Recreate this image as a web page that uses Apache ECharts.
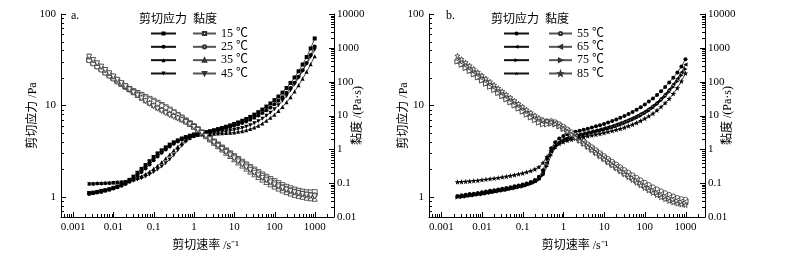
<!DOCTYPE html>
<html><head><meta charset="utf-8">
<script src="https://cdn.jsdelivr.net/npm/echarts@6/dist/echarts.min.js"></script>
<style>html,body{margin:0;padding:0;background:#fff}#c{width:801px;height:262px}</style>
</head><body><div id="c"></div>
<script>
// ---------- data ----------
const shearRate = [0.0025,0.00315,0.00396,0.00499,0.00628,0.00791,0.00996,0.0125,0.0158,0.0199,
 0.025,0.0315,0.0396,0.0499,0.0628,0.0791,0.0996,0.125,0.158,0.199,
 0.25,0.315,0.396,0.499,0.628,0.791,0.996,1.25,1.58,1.99,
 2.5,3.15,3.96,4.99,6.28,7.91,9.96,12.5,15.8,19.9,
 25,31.5,39.6,49.9,62.8,79.1,99.6,125,158,199,
 250,315,396,499,628,791,996];

const stressA15 = [1.10,1.11,1.13,1.16,1.18,1.21,1.25,1.29,1.35,1.42,1.53,1.66,1.83,2.02,2.22,2.45,2.72,2.98,3.22,3.47,3.72,3.94,4.14,4.34,4.50,4.66,4.80,4.90,5.00,5.10,5.22,5.35,5.50,5.66,5.84,6.04,6.26,6.50,6.78,7.10,7.48,7.92,8.43,9.0,9.7,10.5,11.4,12.5,13.8,15.5,17.6,20.2,23.6,28.0,33.8,42,54];
const viscA15 = [440,353,285,233,188,153,126,103,85.6,71.6,61.2,52.7,46.2,40.5,35.3,31.0,27.3,23.8,20.4,17.5,14.9,12.5,10.4,8.70,7.16,5.89,4.82,3.91,3.17,2.57,2.09,1.70,1.39,1.13,0.930,0.764,0.629,0.519,0.430,0.358,0.299,0.252,0.213,0.180,0.154,0.133,0.115,0.0998,0.0875,0.0781,0.0704,0.0642,0.0596,0.0561,0.0538,0.0531,0.0543];
const stressA25 = [1.07,1.09,1.11,1.13,1.16,1.19,1.23,1.27,1.32,1.38,1.46,1.56,1.70,1.86,2.04,2.25,2.50,2.76,3.02,3.28,3.55,3.80,4.02,4.22,4.40,4.56,4.72,4.84,4.94,5.03,5.13,5.24,5.36,5.49,5.64,5.80,5.98,6.18,6.41,6.67,6.97,7.33,7.75,8.24,8.82,9.5,10.3,11.2,12.3,13.7,15.5,17.7,20.6,24.3,29.0,35.5,44];
const viscA25 = [428,346,280,227,185,151,124,101,83.7,69.6,58.4,49.6,42.9,37.3,32.5,28.5,25.1,22.0,19.1,16.5,14.2,12.1,10.1,8.46,7.00,5.77,4.74,3.86,3.13,2.54,2.05,1.66,1.35,1.10,0.898,0.734,0.601,0.493,0.406,0.336,0.279,0.233,0.196,0.165,0.140,0.120,0.104,0.0894,0.0780,0.0690,0.0620,0.0562,0.0520,0.0487,0.0462,0.0449,0.0442];
const stressA35 = [1.40,1.40,1.41,1.41,1.42,1.42,1.43,1.44,1.45,1.47,1.50,1.54,1.60,1.68,1.77,1.88,2.02,2.18,2.38,2.62,2.90,3.20,3.52,3.85,4.15,4.42,4.62,4.74,4.80,4.84,4.87,4.89,4.91,4.94,4.97,5.01,5.06,5.13,5.22,5.34,5.50,5.72,6.00,6.35,6.78,7.30,7.90,8.65,9.60,10.8,12.3,14.2,16.6,19.6,23.3,28.2,34.5];
const viscA35 = [560,445,356,283,226,180,144,115,91.9,74.1,60.0,48.9,40.4,33.7,28.2,23.8,20.3,17.4,15.1,13.2,11.6,10.2,8.88,7.72,6.61,5.59,4.64,3.78,3.04,2.44,1.95,1.55,1.24,0.990,0.791,0.634,0.509,0.409,0.331,0.269,0.220,0.182,0.151,0.127,0.108,0.0923,0.0794,0.0690,0.0609,0.0544,0.0492,0.0451,0.0419,0.0393,0.0371,0.0357,0.0347];
const stressA45 = [1.37,1.37,1.38,1.38,1.39,1.40,1.41,1.42,1.43,1.45,1.47,1.50,1.54,1.59,1.66,1.75,1.86,1.99,2.14,2.33,2.56,2.85,3.22,3.62,4.00,4.32,4.55,4.70,4.79,4.86,4.92,4.98,5.04,5.11,5.19,5.28,5.38,5.50,5.65,5.84,6.07,6.36,6.72,7.15,7.68,8.32,9.08,10.0,11.2,12.7,14.6,17.0,20.0,23.8,28.4,34.0,40.5];
const viscA45 = [548,435,348,277,221,177,142,113,90.7,73.1,58.8,47.7,38.9,31.9,26.4,22.1,18.7,15.9,13.6,11.7,10.2,9.05,8.13,7.26,6.37,5.46,4.57,3.75,3.04,2.45,1.97,1.58,1.27,1.025,0.826,0.668,0.541,0.439,0.358,0.294,0.243,0.202,0.170,0.143,0.122,0.105,0.0913,0.0798,0.0710,0.0640,0.0584,0.0540,0.0505,0.0477,0.0452,0.0430,0.0407];

const stressB55 = [1.02,1.04,1.05,1.07,1.08,1.10,1.12,1.14,1.16,1.18,1.20,1.22,1.25,1.27,1.30,1.33,1.36,1.40,1.45,1.52,1.65,1.95,2.6,3.4,3.95,4.35,4.62,4.82,4.98,5.13,5.27,5.41,5.56,5.72,5.89,6.07,6.27,6.49,6.73,7.00,7.30,7.64,8.02,8.46,8.96,9.53,10.2,11.0,11.9,13.0,14.3,15.9,17.8,20.1,22.9,26.6,32];
const viscB55 = [408,330,265,215,172,139,113,91.0,73.5,59.5,48.0,38.8,31.6,25.5,20.7,16.8,13.7,11.2,9.19,7.66,6.60,6.20,6.56,6.82,6.29,5.50,4.64,3.85,3.16,2.59,2.11,1.72,1.40,1.15,0.938,0.768,0.630,0.518,0.427,0.353,0.292,0.243,0.202,0.170,0.143,0.121,0.103,0.0878,0.0754,0.0655,0.0572,0.0505,0.0449,0.0403,0.0365,0.0336,0.0322];
const stressB65 = [1.00,1.01,1.03,1.04,1.06,1.07,1.09,1.11,1.13,1.15,1.17,1.19,1.22,1.24,1.27,1.30,1.33,1.37,1.42,1.48,1.58,1.82,2.35,3.1,3.65,4.0,4.25,4.43,4.58,4.71,4.83,4.95,5.07,5.20,5.33,5.48,5.64,5.81,6.0,6.21,6.44,6.70,6.99,7.32,7.70,8.13,8.63,9.22,9.95,10.85,11.95,13.3,15.0,17.1,19.7,23.0,28];
const viscB65 = [400,321,260,209,169,135,110,88.6,71.6,58.0,46.8,37.8,30.8,24.9,20.2,16.4,13.4,10.9,9.00,7.46,6.32,5.78,5.93,6.22,5.81,5.06,4.27,3.54,2.90,2.37,1.93,1.57,1.28,1.04,0.849,0.693,0.567,0.464,0.380,0.313,0.258,0.213,0.176,0.147,0.123,0.103,0.0867,0.0736,0.0631,0.0547,0.0478,0.0423,0.0379,0.0343,0.0314,0.0291,0.0281];
const stressB75 = [0.98,0.99,1.00,1.02,1.03,1.05,1.06,1.08,1.10,1.12,1.14,1.16,1.18,1.21,1.23,1.26,1.29,1.33,1.38,1.44,1.53,1.72,2.15,2.85,3.4,3.78,4.05,4.25,4.40,4.53,4.64,4.75,4.86,4.98,5.10,5.23,5.37,5.52,5.69,5.88,6.09,6.33,6.60,6.91,7.26,7.67,8.14,8.70,9.38,10.2,11.2,12.45,14.0,15.9,18.3,21.3,25];
const viscB75 = [392,315,252,205,164,133,107,86.2,69.7,56.4,45.6,36.9,29.8,24.3,19.6,15.9,13.0,10.6,8.75,7.26,6.12,5.46,5.43,5.71,5.41,4.78,4.07,3.39,2.79,2.28,1.86,1.51,1.23,0.998,0.812,0.662,0.540,0.441,0.361,0.296,0.244,0.201,0.167,0.139,0.116,0.0970,0.0818,0.0694,0.0595,0.0514,0.0448,0.0396,0.0353,0.0319,0.0291,0.0269,0.0251];
const stressB85 = [1.45,1.46,1.47,1.48,1.50,1.51,1.53,1.55,1.57,1.59,1.61,1.64,1.67,1.70,1.73,1.77,1.81,1.86,1.92,2.00,2.12,2.35,2.75,3.2,3.55,3.8,3.98,4.12,4.24,4.34,4.43,4.52,4.61,4.70,4.80,4.90,5.01,5.13,5.26,5.40,5.56,5.74,5.95,6.19,6.47,6.80,7.18,7.63,8.17,8.83,9.63,10.6,11.8,13.4,15.5,18.4,22.5];
const viscB85 = [580,464,371,297,239,191,154,124,99.5,80.1,64.4,52.1,42.2,34.1,27.5,22.4,18.2,14.8,12.2,10.1,8.48,7.47,6.94,6.42,5.65,4.81,4.00,3.29,2.69,2.19,1.77,1.44,1.16,0.942,0.764,0.620,0.504,0.409,0.333,0.272,0.222,0.182,0.150,0.124,0.103,0.0860,0.0722,0.0609,0.0518,0.0445,0.0385,0.0337,0.0298,0.0269,0.0247,0.0233,0.0226];

const tempsA = ['15 ℃','25 ℃','35 ℃','45 ℃'];
const tempsB = ['55 ℃','65 ℃','75 ℃','85 ℃'];

// tick positions on the log axes
const xMajorTicks = [0.001,0.01,0.1,1,10,100,1000];
const xMinorTicks = [0.0006,0.0007,0.0008,0.0009,0.002,0.003,0.004,0.005,0.006,0.007,0.008,0.009,
 0.02,0.03,0.04,0.05,0.06,0.07,0.08,0.09,0.2,0.3,0.4,0.5,0.6,0.7,0.8,0.9,2,3,4,5,6,7,8,9,
 20,30,40,50,60,70,80,90,200,300,400,500,600,700,800,900,2000];
const yStressMajorTicks = [1,10,100];
const yStressMinorTicks = [0.7,0.8,0.9,2,3,4,5,6,7,8,9,20,30,40,50,60,70,80,90];
const yViscMajorTicks = [0.1,1,10,100,1000,10000];
const yViscMinorTicks = [0.02,0.03,0.04,0.05,0.06,0.07,0.08,0.09,0.2,0.3,0.4,0.5,0.6,0.7,0.8,0.9,
 2,3,4,5,6,7,8,9,20,30,40,50,60,70,80,90,200,300,400,500,600,700,800,900,2000,3000,4000,5000,6000,7000,8000,9000];

// ---------- chart ----------
const FONT = "'Liberation Serif','Times New Roman','Noto Sans CJK SC',serif";
const X_MIN = 0.0005, X_MAX = 3000, YS_MIN = 0.6, YS_MAX = 100, YV_MIN = 0.01, YV_MAX = 10000;
const STAR = 'path://M0,-10L2.35,-3.24L9.51,-3.09L3.8,1.24L5.88,8.09L0,4L-5.88,8.09L-3.8,1.24L-9.51,-3.09L-2.35,-3.24Z';

function isPow10(v){ const l = Math.log10(v); return Math.abs(l - Math.round(l)) < 1e-6; }
const labelFmt = v => isPow10(v) ? String(+Number(v).toPrecision(6)) : '';

function xAxisCfg(gi){
  return { type:'log', logBase:10, gridIndex:gi, min:X_MIN, max:X_MAX,
    name:'剪切速率 /s⁻¹', nameLocation:'middle', nameGap:23, nameMoveOverlap:false,
    nameTextStyle:{fontSize:12, fontFamily:FONT, color:'#000', padding:[0,0,0,16]},
    axisLine:{show:true, onZero:false, lineStyle:{color:'#000', width:1}},
    axisTick:{show:false},
    axisLabel:{margin:5, formatter:labelFmt, color:'#000', fontSize:11, fontFamily:FONT},
    splitLine:{show:false}};
}
function yAxisCfg(gi, pos, min, max, name, gap){
  return { type:'log', logBase:10, gridIndex:gi, position:pos, min, max,
    name, nameLocation:'middle', nameRotate:90, nameGap:gap, nameMoveOverlap:false,
    nameTextStyle:{fontSize:12, fontFamily:FONT, color:'#000'},
    axisLine:{show:true, onZero:false, lineStyle:{color:'#000', width:1}},
    axisTick:{show:false},
    axisLabel:{margin:pos==='left'?5:3, formatter:labelFmt, color:'#000', fontSize:11, fontFamily:FONT},
    splitLine:{show:false}, alignTicks:false};
}

function lineSeries(name, ys, sym, rot, open, xi, yi){
  return { type:'line', name, xAxisIndex:xi, yAxisIndex:yi,
    data: shearRate.map((x,i)=>[x, ys[i]]),
    symbol:sym, symbolRotate:rot, symbolSize: open ? 5 : (sym===STAR?5.5:4), showSymbol:true,
    lineStyle:{color: open ? '#555' : '#111', width:0.8},
    itemStyle: open ? {color:'#fff', borderColor:'#333', borderWidth:0.8} : {color:'#000', borderWidth:0},
    emphasis:{disabled:true}, animation:false, z:3 };
}

// axis ticks (major and minor) drawn through the axes' own scales
function tickSeries(kind, values, len, xi, yi){
  const data = values.map(v => kind==='x' ? [v, YS_MIN] : (kind==='yl' ? [X_MIN, v] : [X_MAX, v]));
  return { type:'custom', xAxisIndex:xi, yAxisIndex:yi, silent:true, clip:false, z:10, animation:false,
    data,
    renderItem:(params, api)=>{
      const p = api.coord([api.value(0), api.value(1)]);
      let shape;
      if (kind==='x'){ const x = Math.round(p[0])+0.5; shape={x1:x,y1:p[1],x2:x,y2:p[1]-len}; }
      else if (kind==='yl'){ const y = Math.round(p[1])+0.5; shape={x1:p[0],y1:y,x2:p[0]+len,y2:y}; }
      else { const y = Math.round(p[1])+0.5; shape={x1:p[0],y1:y,x2:p[0]-len,y2:y}; }
      return {type:'line', shape, style:{stroke:'#000', lineWidth:1}};
    }};
}

const series = [];
const symA = [['rect',0],['circle',0],['triangle',0],['triangle',180]];
const symB = [['circle',0],['triangle',90],['triangle',-90],[STAR,0]];
const stressA = [stressA15,stressA25,stressA35,stressA45], viscA = [viscA15,viscA25,viscA35,viscA45];
const stressB = [stressB55,stressB65,stressB75,stressB85], viscB = [viscB55,viscB65,viscB75,viscB85];
for (let k=0;k<4;k++){
  series.push(lineSeries(tempsA[k]+' 剪切应力', stressA[k], symA[k][0], symA[k][1], false, 0, 0));
  series.push(lineSeries(tempsA[k], viscA[k], symA[k][0], symA[k][1], true, 0, 1));
  series.push(lineSeries(tempsB[k]+' 剪切应力', stressB[k], symB[k][0], symB[k][1], false, 1, 2));
  series.push(lineSeries(tempsB[k], viscB[k], symB[k][0], symB[k][1], true, 1, 3));
}
[[0,0,1],[1,2,3]].forEach(([xi, yl, yr])=>{
  series.push(tickSeries('x', xMajorTicks, 5, xi, yl));
  series.push(tickSeries('x', xMinorTicks, 3, xi, yl));
  series.push(tickSeries('yl', yStressMajorTicks, 5, xi, yl));
  series.push(tickSeries('yl', yStressMinorTicks, 3, xi, yl));
  series.push(tickSeries('yr', yViscMajorTicks, 5, xi, yr));
  series.push(tickSeries('yr', yViscMinorTicks, 3, xi, yr));
});

function legendCfg(left, names, width, height, showText){
  return { left, top:27, orient:'vertical', padding:0, itemGap:0.33, itemWidth:width, itemHeight:height,
    selectedMode:false, data:names,
    formatter: showText ? (n=>n) : (()=>' '),
    textStyle:{fontSize:12, lineHeight:13, fontFamily:FONT, color:'#000'} };
}
const titleStyle = {fontSize:12, fontWeight:'normal', fontFamily:FONT, color:'#000'};

const option = {
  animation:false,
  backgroundColor:'#fff',
  title:[
    {text:'a.', left:71, top:10, padding:0, textStyle:titleStyle},
    {text:'剪切应力  黏度', left:139, top:14, padding:0, textStyle:titleStyle},
    {text:'b.', left:446, top:10, padding:0, textStyle:titleStyle},
    {text:'剪切应力  黏度', left:491, top:14, padding:0, textStyle:titleStyle}
  ],
  legend:[
    legendCfg(150, tempsA.map(t=>t+' 剪切应力'), 25, 5, false),
    legendCfg(192, tempsA, 23, 4, true),
    legendCfg(503, tempsB.map(t=>t+' 剪切应力'), 25, 5, false),
    legendCfg(548, tempsB, 23, 4, true)
  ],
  grid:[
    {left:61, top:14, width:273, height:203},
    {left:429, top:14, width:276, height:203}
  ],
  xAxis:[xAxisCfg(0), xAxisCfg(1)],
  yAxis:[
    yAxisCfg(0,'left',YS_MIN,YS_MAX,'剪切应力 /Pa',22),
    yAxisCfg(0,'right',YV_MIN,YV_MAX,'黏度 /(Pa·s)',18),
    yAxisCfg(1,'left',YS_MIN,YS_MAX,'剪切应力 /Pa',19),
    yAxisCfg(1,'right',YV_MIN,YV_MAX,'黏度 /(Pa·s)',17)
  ],
  series
};
const chart = echarts.init(document.getElementById('c'), null, {renderer:'canvas'});
chart.setOption(option);
</script>
</body></html>
